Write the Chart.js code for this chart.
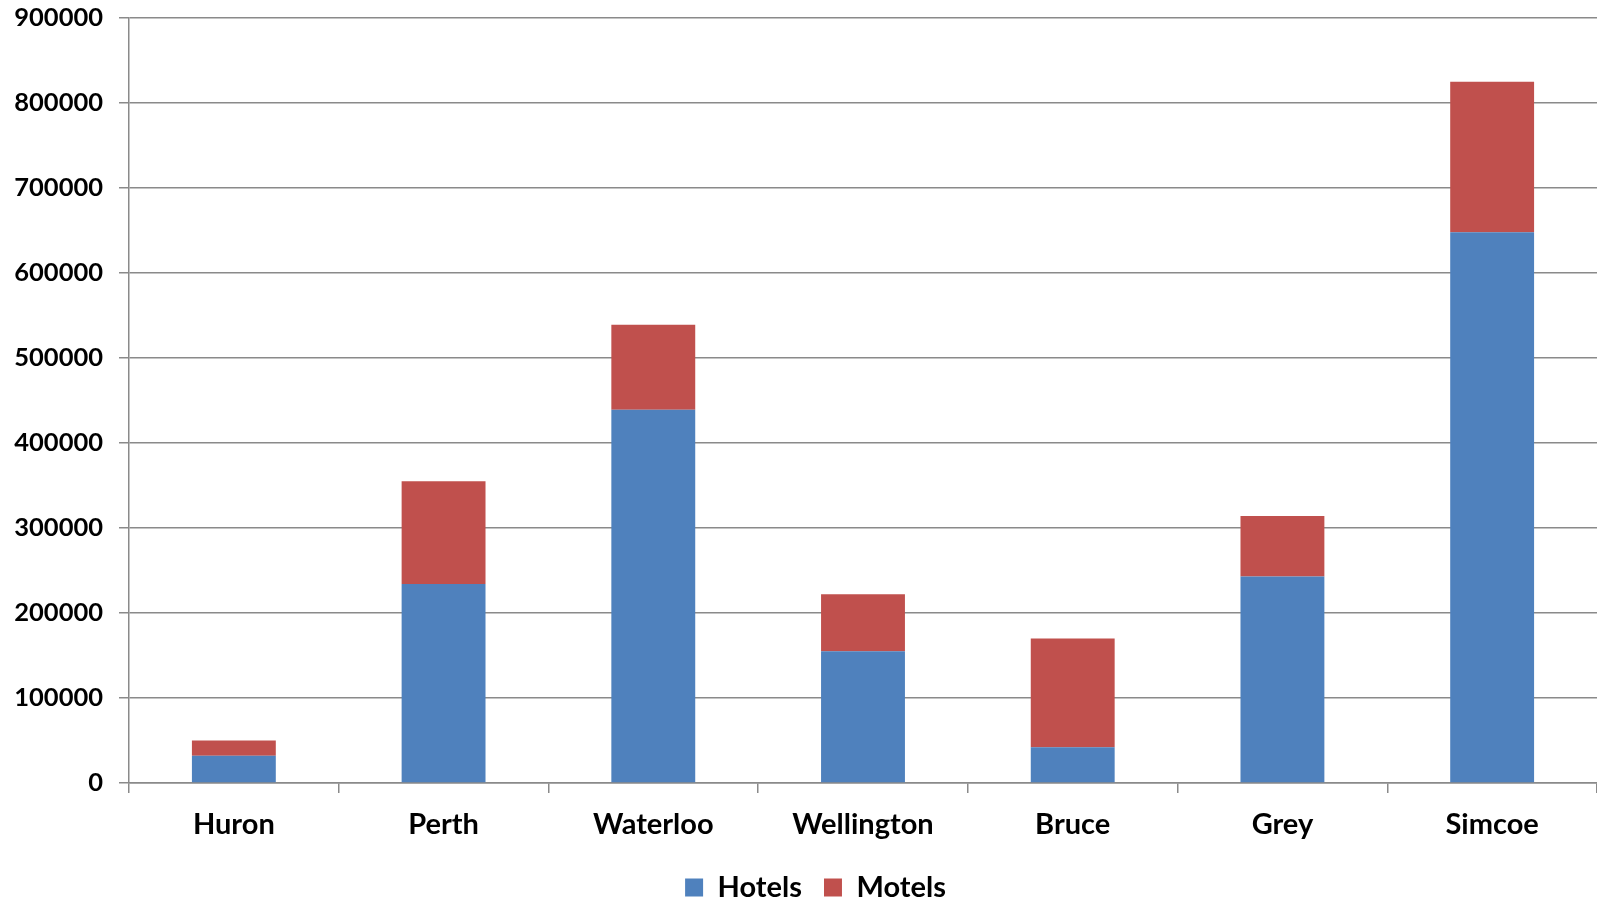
<!DOCTYPE html>
<html>
<head>
<meta charset="utf-8">
<title>Hotels and Motels by County</title>
<script src="https://cdn.jsdelivr.net/npm/chart.js@4/dist/chart.umd.min.js"></script>
<style>
  html, body { margin: 0; padding: 0; background: #ffffff; }
  #wrap { position: relative; width: 1597px; height: 900px; }
</style>
</head>
<body>
<div id="wrap"><canvas id="chart"></canvas></div>
<script>
// Counties along the x axis
const counties = ['Huron', 'Perth', 'Waterloo', 'Wellington', 'Bruce', 'Grey', 'Simcoe'];

// Stacked series values
const hotels = [32000, 234000, 439000, 155000, 42000, 243000, 648000];
const motels = [18000, 121000, 100000, 67000, 128000, 71000, 177000];

// Value axis range and tick spacing
const yMin = 0;
const yMax = 900000;
const yStep = 100000;

const gridGray = '#8a8a8a';
const fontFamily = 'Lato, "Liberation Sans", sans-serif';

// Nudges the legend row a little to the right of the canvas centre
const legendShift = {
  id: 'legendShift',
  afterLayout(chart) {
    const lg = chart.legend;
    if (lg) { lg.left += 17; lg.right += 17; }
  }
};

new Chart(document.getElementById('chart'), {
  type: 'bar',
  data: {
    labels: counties,
    datasets: [
      { label: 'Hotels', data: hotels, backgroundColor: '#4F81BD', borderWidth: 0 },
      { label: 'Motels', data: motels, backgroundColor: '#C0504D', borderWidth: 0 }
    ]
  },
  plugins: [legendShift],
  options: {
    responsive: true,
    maintainAspectRatio: false,
    animation: false,
    layout: { padding: { top: 18, right: 0, left: 0, bottom: -12 } },
    datasets: { bar: { barPercentage: 0.4, categoryPercentage: 1.0 } },
    plugins: {
      tooltip: { enabled: false },
      legend: {
        position: 'bottom',
        labels: {
          color: '#000',
          font: { family: fontFamily, size: 29, weight: 'bold' },
          boxWidth: 18,
          boxHeight: 18,
          padding: 22
        }
      }
    },
    scales: {
      x: {
        stacked: true,
        border: { display: true, color: gridGray, width: 1.5 },
        grid: { display: true, drawOnChartArea: false, drawTicks: true, tickLength: 10, color: gridGray, lineWidth: 1.5, offset: true },
        ticks: { color: '#000', padding: 14, font: { family: fontFamily, size: 29, weight: 'bold' }, maxRotation: 0 },
        afterFit: scale => { scale.height = 68; }
      },
      y: {
        stacked: true,
        min: yMin,
        max: yMax,
        border: { display: true, color: gridGray, width: 1.5 },
        grid: { color: gridGray, lineWidth: 1.5, drawTicks: true, tickLength: 10 },
        ticks: {
          stepSize: yStep,
          color: '#000',
          padding: 16,
          font: { family: fontFamily, size: 25.5, weight: 'bold' },
          callback: v => String(v)
        },
        afterFit: scale => {
          scale.width = 129;
          scale.paddingTop = 0;
          scale.paddingBottom = 0;
        }
      }
    }
  }
});
</script>
</body>
</html>
